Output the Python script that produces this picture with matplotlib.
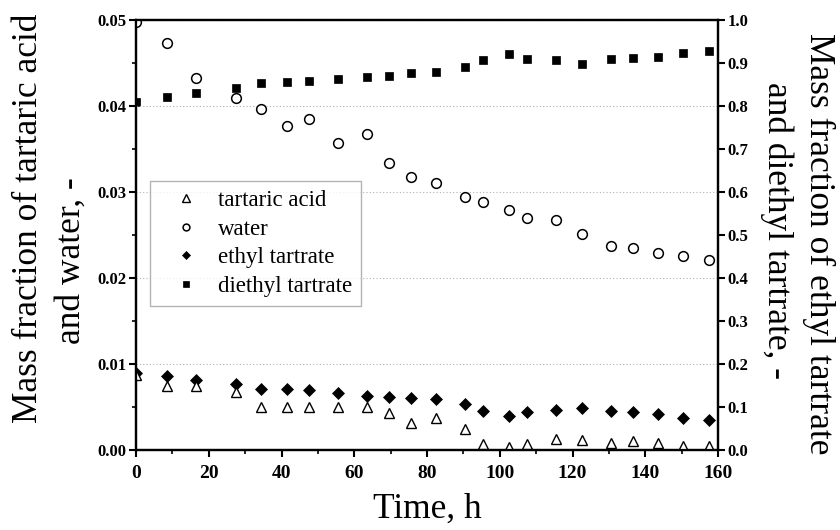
import matplotlib
matplotlib.use("Agg")
import matplotlib.pyplot as plt
from matplotlib.ticker import MultipleLocator, FormatStrFormatter

# ---- data ----
time_h = [0, 8.5, 16.5, 27.5, 34.5, 41.5, 47.5, 55.5, 63.5, 69.5, 75.5, 82.5,
          90.5, 95.5, 102.5, 107.5, 115.5, 122.5, 130.5, 136.5, 143.5, 150.5, 157.5]

tartaric_acid = [0.0087, 0.0074, 0.0074, 0.0067, 0.0050, 0.0050, 0.0050, 0.0050,
                 0.0050, 0.0043, 0.0031, 0.0037, 0.0025, 0.0007, 0.0004, 0.0007,
                 0.0013, 0.0012, 0.0008, 0.0010, 0.0008, 0.0005, 0.0005]

water = [0.0498, 0.0473, 0.0433, 0.0409, 0.0396, 0.0377, 0.0385, 0.0357,
         0.0368, 0.0334, 0.0317, 0.0310, 0.0294, 0.0288, 0.0279, 0.0270,
         0.0267, 0.0251, 0.0237, 0.0235, 0.0229, 0.0226, 0.0221]

ethyl_tartrate = [0.180, 0.172, 0.163, 0.153, 0.141, 0.141, 0.139, 0.133,
                  0.126, 0.124, 0.121, 0.119, 0.108, 0.091, 0.079, 0.089,
                  0.092, 0.097, 0.091, 0.088, 0.083, 0.074, 0.069]

diethyl_tartrate = [0.810, 0.822, 0.830, 0.841, 0.853, 0.855, 0.858, 0.863,
                    0.867, 0.870, 0.877, 0.878, 0.891, 0.907, 0.921, 0.910,
                    0.907, 0.898, 0.909, 0.912, 0.915, 0.924, 0.929]

labels = ["tartaric acid", "water", "ethyl tartrate", "diethyl tartrate"]

# ---- figure ----
plt.rcParams['font.family'] = ['Liberation Serif', 'DejaVu Serif']
W, H = 840, 530
fig = plt.figure(figsize=(W / 100, H / 100), dpi=100)
L, R, T, B = 136, 718, 20, 450
ax = fig.add_axes([L / W, 1 - B / H, (R - L) / W, (B - T) / H])
ax2 = ax.twinx()

h1, = ax.plot(time_h, tartaric_acid, linestyle='none', marker='^', ms=7.5,
              mfc='white', mec='black', mew=1.0)
h2, = ax.plot(time_h, water, linestyle='none', marker='o', ms=7,
              mfc='white', mec='black', mew=1.1)
h3, = ax2.plot(time_h, ethyl_tartrate, linestyle='none', marker='D', ms=6.5,
               mfc='black', mec='black', mew=0.5)
h4, = ax2.plot(time_h, diethyl_tartrate, linestyle='none', marker='s', ms=6,
               mfc='black', mec='black', mew=0.5)
ax.set_zorder(ax2.get_zorder() + 1)
ax.patch.set_visible(False)

ax.set_xlim(0, 160)
ax.set_ylim(0, 0.05)
ax2.set_ylim(0, 1.0)

ax.xaxis.set_major_locator(MultipleLocator(20))
ax.xaxis.set_minor_locator(MultipleLocator(10))
ax.yaxis.set_major_locator(MultipleLocator(0.01))
ax.yaxis.set_minor_locator(MultipleLocator(0.005))
ax.yaxis.set_major_formatter(FormatStrFormatter('%.2f'))
ax2.yaxis.set_major_locator(MultipleLocator(0.1))
ax2.yaxis.set_major_formatter(FormatStrFormatter('%.1f'))

ax.grid(axis='y', which='major', linestyle=(0, (1, 2)), color='#b0b0b0', lw=0.8)

for a in (ax, ax2):
    for s in a.spines.values():
        s.set_linewidth(1.6)

ax.tick_params(axis='x', which='major', direction='out', length=5, width=1.5,
               pad=6, labelsize=14)
ax.tick_params(axis='x', which='minor', direction='out', length=3, width=1.2)
ax.tick_params(axis='y', which='major', direction='out', length=5, width=1.5,
               pad=2, labelsize=12)
ax.tick_params(axis='y', which='minor', direction='out', length=3, width=1.2)
ax2.tick_params(axis='y', which='major', direction='out', length=5, width=1.5,
                pad=2, labelsize=12)
for lab in ax.get_xticklabels() + ax.get_yticklabels() + ax2.get_yticklabels():
    lab.set_fontweight('bold')

leg = ax.legend([h1, h2, h3, h4], labels, loc='upper left',
                bbox_to_anchor=((150 - L) / (R - L), (B - 181) / (B - T)),
                borderaxespad=0, fontsize=16.5, markerscale=0.7, frameon=True,
                fancybox=False, edgecolor='#a0a0a0', handlelength=2.3,
                handletextpad=0.25, labelspacing=0.33, borderpad=0.4)
leg.get_frame().set_linewidth(1.0)

# axis titles
fs = 25.5
fig.text(37 / W, 1 - 218 / H, "Mass fraction of tartaric acid", rotation=90,
         rotation_mode='anchor', ha='center', va='baseline', fontsize=fs)
fig.text(80 / W, 1 - 261 / H, "and water, -", rotation=90,
         rotation_mode='anchor', ha='center', va='baseline', fontsize=fs)
fig.text(810 / W, 1 - 244 / H, "Mass fraction of ethyl tartrate", rotation=270,
         rotation_mode='anchor', ha='center', va='baseline', fontsize=fs)
fig.text(768 / W, 1 - 231 / H, "and diethyl tartrate, -", rotation=270,
         rotation_mode='anchor', ha='center', va='baseline', fontsize=fs)
fig.text(427 / W, 1 - 518 / H, "Time, h", ha='center', va='baseline', fontsize=fs)

fig.savefig("out.png", dpi=100)
